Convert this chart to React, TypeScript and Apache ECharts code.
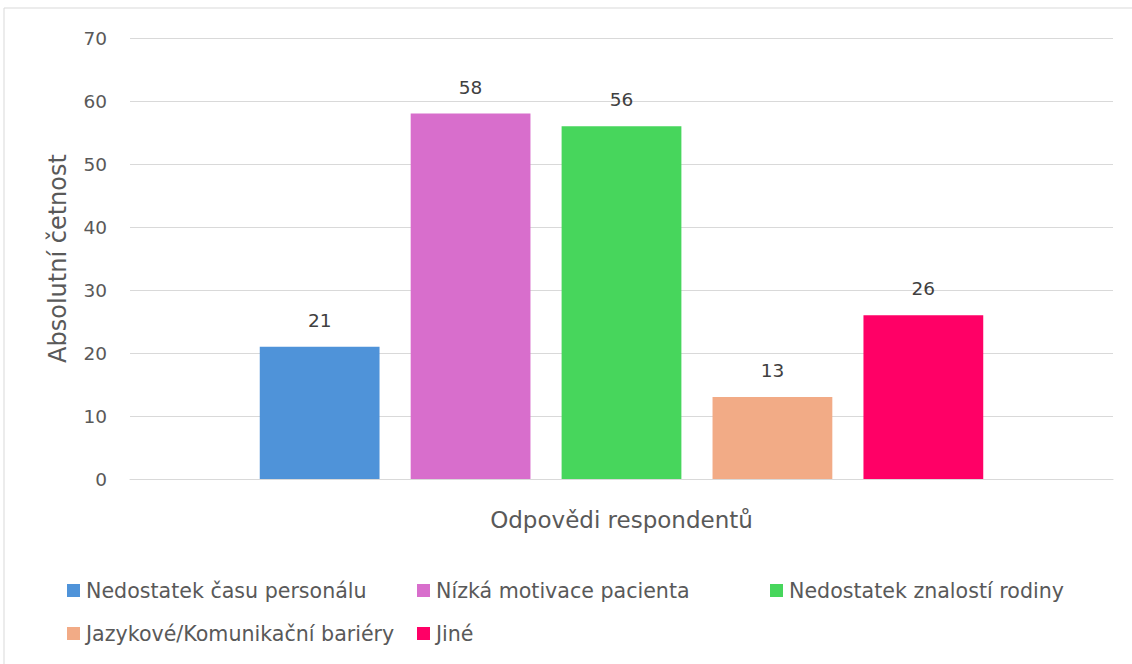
import React, { useEffect, useRef } from "react";
import * as echarts from "echarts";

const categories = ["Odpovědi respondentů"];
const seriesNames = [
  "Nedostatek času personálu",
  "Nízká motivace pacienta",
  "Nedostatek znalostí rodiny",
  "Jazykové/Komunikační bariéry",
  "Jiné",
];
const seriesValues = [21, 58, 56, 13, 26];
const seriesColors = ["#4F93D9", "#D86ECC", "#47D65C", "#F2AB86", "#FF0066"];
const yTicks = { min: 0, max: 70, interval: 10 };
const yAxisName = "Absolutní četnost";

const FONT = "'DejaVu Sans', 'Liberation Sans', sans-serif";

const legendPos = [
  { left: 67, top: 580 },
  { left: 417, top: 580 },
  { left: 770, top: 580 },
  { left: 67, top: 623 },
  { left: 417, top: 623 },
];

export default function App() {
  const ref = useRef<HTMLDivElement>(null);
  useEffect(() => {
    document.body.style.margin = "0";
    const chart = echarts.init(ref.current!, undefined, { renderer: "svg" });
    chart.setOption({
      animation: false,
      textStyle: { fontFamily: FONT },
      graphic: [
        {
          type: "rect",
          shape: { x: 4, y: 8, width: 1200, height: 700 },
          style: { fill: "none", stroke: "#D9D9D9", lineWidth: 1 },
          silent: true,
        },
      ],
      grid: { left: 130, right: 19, top: 38, bottom: 185 },
      legend: seriesNames.map((n, i) => ({
        data: [n],
        left: legendPos[i].left,
        top: legendPos[i].top,
        padding: 0,
        itemWidth: 13,
        itemHeight: 13,
        itemGap: 6,
        icon: "rect",
        textStyle: { fontFamily: FONT, fontSize: 20.6, color: "#595959", padding: [0, 0, 0, 1] },
      })),
      xAxis: {
        type: "category",
        data: categories,
        axisLine: { lineStyle: { color: "#D9D9D9", width: 1 } },
        axisTick: { show: false },
        axisLabel: { color: "#595959", fontSize: 23, margin: 29, fontFamily: FONT },
      },
      yAxis: {
        type: "value",
        min: yTicks.min,
        max: yTicks.max,
        interval: yTicks.interval,
        name: yAxisName,
        nameLocation: "middle",
        nameGap: 60,
        nameTextStyle: { color: "#595959", fontSize: 24, fontFamily: FONT },
        axisLine: { show: false },
        axisTick: { show: false },
        axisLabel: { color: "#595959", fontSize: 18.5, margin: 23, fontFamily: FONT },
        splitLine: { lineStyle: { color: "#D9D9D9", width: 1 } },
      },
      series: seriesNames.map((n, i) => ({
        name: n,
        type: "bar",
        data: [seriesValues[i]],
        itemStyle: { color: seriesColors[i] },
        barGap: "26%",
        barCategoryGap: "26.4%",
        label: {
          show: true,
          position: "top",
          distance: 17,
          color: "#404040",
          fontSize: 18.5,
          fontFamily: FONT,
        },
      })),
    });
    return () => chart.dispose();
  }, []);
  return <div ref={ref} style={{ width: 1132, height: 664 }} />;
}
